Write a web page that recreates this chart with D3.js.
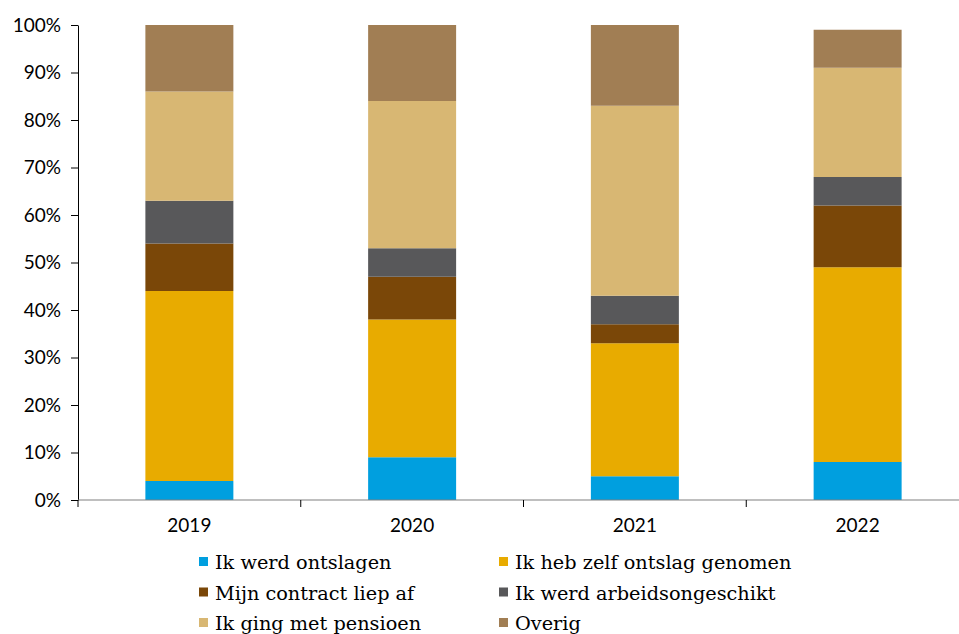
<!DOCTYPE html>
<html><head><meta charset="utf-8">
<script src="https://cdn.jsdelivr.net/npm/d3@7"></script>
<style>body{margin:0;background:#fff}svg{display:block}</style>
</head><body>
<svg id="c" width="959" height="634"></svg>
<script>
const years = ["2019","2020","2021","2022"];
const seriesNames = ["Ik werd ontslagen","Ik heb zelf ontslag genomen","Mijn contract liep af","Ik werd arbeidsongeschikt","Ik ging met pensioen","Overig"];
const ontslagen = [4, 9, 5, 8];
const zelfOntslag = [40, 29, 28, 41];
const contract = [10, 9, 4, 13];
const arbeidsongeschikt = [9, 6, 6, 6];
const pensioen = [23, 31, 40, 23];
const overig = [14, 16, 17, 8];
const yTicks = [0,10,20,30,40,50,60,70,80,90,100];
const colors = ["#009fdf","#e8ab00","#7a4708","#58585a","#d8b773","#a17e54"];

const seriesValues = [ontslagen, zelfOntslag, contract, arbeidsongeschikt, pensioen, overig];
const table = years.map((yr,i)=>{const o={year:yr}; seriesNames.forEach((s,k)=>o[s]=seriesValues[k][i]); return o;});
const stacked = d3.stack().keys(seriesNames)(table);

const svg = d3.select("#c");
const mLeft = 78, mRight = 969, mTop = 25, mBottom = 500;
const x = d3.scaleBand().domain(years).range([mLeft, mRight]).paddingInner(0.605).paddingOuter(0.3025);
const xTickScale = d3.scaleBand().domain(years).range([mLeft, mRight]);
const y = d3.scaleLinear().domain([0,100]).range([mBottom, mTop]);

svg.append("g").selectAll("g").data(stacked).join("g").attr("fill",(d,i)=>colors[i])
  .selectAll("rect").data(d=>d).join("rect")
  .attr("x", d=>x(d.data.year)).attr("width", x.bandwidth())
  .attr("y", d=>y(d[1])).attr("height", d=>y(d[0])-y(d[1]));

// y axis
const yAxis = svg.append("g").attr("transform",`translate(${mLeft},0)`)
  .call(d3.axisLeft(y).tickValues(yTicks).tickFormat(d=>d+"%").tickSize(7).tickSizeOuter(0));
yAxis.select(".domain").attr("stroke","#000");
yAxis.selectAll("line").attr("stroke","#000");
yAxis.selectAll("text").attr("font-family","Lato, sans-serif").attr("font-size","19px").attr("fill","#000").attr("x",-17);

// x axis
const xg = svg.append("g").attr("transform",`translate(0,${mBottom})`);
xg.append("line").attr("x1",mLeft).attr("x2",mRight).attr("stroke","#808080").attr("stroke-width",1.2);
xg.selectAll("line.t").data(years.slice(1)).join("line").attr("class","t")
  .attr("x1",d=>xTickScale(d)).attr("x2",d=>xTickScale(d)).attr("y1",0).attr("y2",7).attr("stroke","#000");
xg.append("line").attr("x1",mLeft).attr("x2",mLeft).attr("y1",0).attr("y2",7).attr("stroke","#000");
xg.selectAll("text").data(years).join("text")
  .attr("x",d=>x(d)+x.bandwidth()/2).attr("y",32).attr("text-anchor","middle")
  .attr("font-family","Lato, sans-serif").attr("font-size","19px").attr("fill","#000").text(d=>d);

// legend
const lg = svg.append("g");
seriesNames.forEach((s,i)=>{
  const col = i%2, row = Math.floor(i/2);
  const lx = col===0 ? 199 : 499, base = 569 + row*30.5;
  lg.append("rect").attr("x",lx).attr("y",base-12).attr("width",9).attr("height",9).attr("fill",colors[i]);
  lg.append("text").attr("x",lx+16).attr("y",base).attr("font-family","'DejaVu Serif', serif")
    .attr("font-size","19.3px").attr("fill","#000").text(s);
});
</script>
</body></html>
